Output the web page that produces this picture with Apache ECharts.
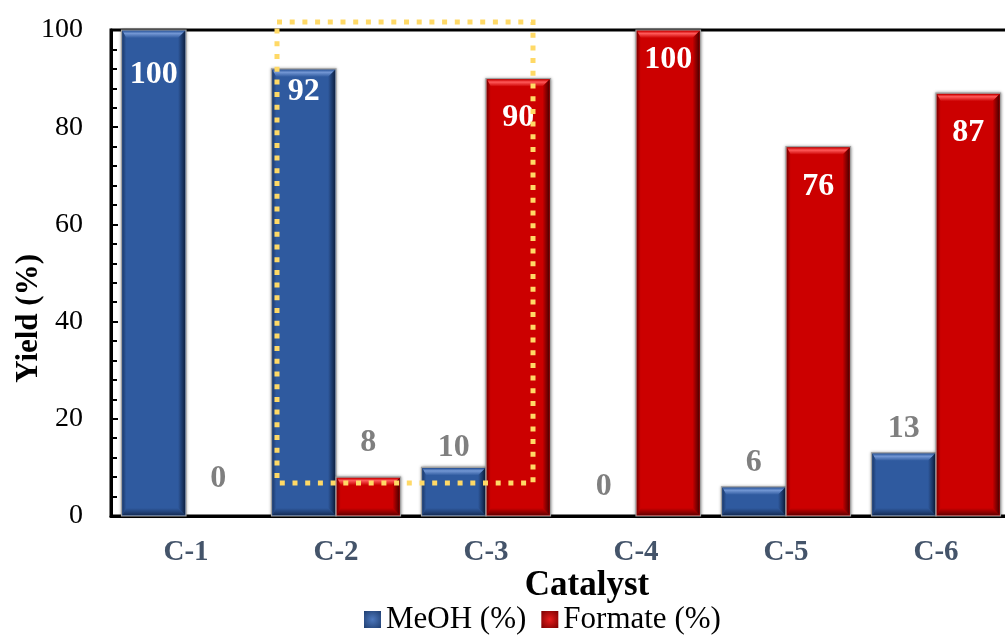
<!DOCTYPE html>
<html>
<head>
<meta charset="utf-8">
<script src="https://cdn.jsdelivr.net/npm/echarts@6/dist/echarts.min.js"></script>
<style>
  html, body { margin: 0; padding: 0; background: #fff; }
  #chart { width: 1005px; height: 636px; }
</style>
</head>
<body>
<div id="chart"></div>
<script>
// Catalyst screening: methanol vs formate yield
const categories = ['C-1', 'C-2', 'C-3', 'C-4', 'C-5', 'C-6'];
const meohYield = [100, 92, 10, 0, 6, 13];
const formateYield = [0, 8, 90, 100, 76, 87];
const yTicks = [0, 20, 40, 60, 80, 100];

// label placement (pixels below bar top for inside labels, above for outside ones)
const insideShift = [[45, 23, 39, 30, 40, 40], [45, 23, 39, 30, 40, 40]];
const outsideShift = [[37, 34, 20, 29, 24, 24], [37, 34, 20, 29, 24, 24]];

const SERIF = '"Liberation Serif", "Times New Roman", serif';
const palette = [
  { base: '#2F5A9F', light: '#7397D4', dark: '#0F2244' },
  { base: '#CC0000', light: '#FF5A5A', dark: '#4A0000' }
];
const BAR_RATIO = 0.43;

function makeRender(si) {
  return function (params, api) {
    const idx = api.value(0);
    const val = api.value(1);
    const base = api.coord([idx, 0]);
    const top = api.coord([idx, val]);
    const band = api.size([1, 0])[0];
    const w = band * BAR_RATIO;
    const x = si === 0 ? base[0] - w : base[0];
    const h = base[1] - top[1];
    const c = palette[si];
    const children = [];
    if (h > 0) {
      const b = Math.min(8, h / 3);
      children.push({
        type: 'rect',
        shape: { x: x, y: top[1], width: w, height: h },
        style: { fill: c.base, stroke: '#a0a0a0', lineWidth: 1.2,
                 shadowBlur: 3, shadowColor: 'rgba(0,0,0,0.35)' }
      });
      // top highlight
      children.push({
        type: 'polygon',
        shape: { points: [[x + 1, top[1] + 1], [x + w - 1, top[1] + 1], [x + w - b, top[1] + b], [x + b * 0.6, top[1] + b]] },
        style: { fill: new echarts.graphic.LinearGradient(0, 0, 0, 1, [
          { offset: 0, color: c.base }, { offset: 0.35, color: c.light }, { offset: 1, color: c.base }]) }
      });
      // right dark edge
      children.push({
        type: 'polygon',
        shape: { points: [[x + w - 1, top[1] + 1], [x + w - 1, base[1] - 1], [x + w - b, base[1] - b], [x + w - b, top[1] + b]] },
        style: { fill: new echarts.graphic.LinearGradient(0, 0, 1, 0, [
          { offset: 0, color: c.base }, { offset: 1, color: c.dark }]) }
      });
      // bottom dark edge
      children.push({
        type: 'polygon',
        shape: { points: [[x + 1, base[1] - 1], [x + w - 1, base[1] - 1], [x + w - b, base[1] - b], [x + b * 0.6, base[1] - b]] },
        style: { fill: new echarts.graphic.LinearGradient(0, 0, 0, 1, [
          { offset: 0, color: c.base }, { offset: 1, color: c.dark }]), opacity: 0.75 }
      });
      // left soft edge
      children.push({
        type: 'polygon',
        shape: { points: [[x + 1, top[1] + 1], [x + b * 0.6, top[1] + b], [x + b * 0.6, base[1] - b], [x + 1, base[1] - 1]] },
        style: { fill: new echarts.graphic.LinearGradient(0, 0, 1, 0, [
          { offset: 0, color: c.dark }, { offset: 1, color: c.base }]), opacity: 0.5 }
      });
    }
    const inside = val >= 50;
    children.push({
      type: 'text',
      style: {
        text: String(val),
        x: x + w / 2,
        y: inside ? top[1] + insideShift[si][idx] : top[1] - outsideShift[si][idx],
        fill: inside ? '#ffffff' : '#7f7f7f',
        font: 'bold 32px ' + SERIF,
        align: 'center',
        verticalAlign: 'middle'
      },
      z2: 10
    });
    return { type: 'group', children: children };
  };
}

const chart = echarts.init(document.getElementById('chart'), null, { renderer: 'canvas' });

chart.setOption({
  backgroundColor: '#ffffff',
  animation: false,
  grid: {
    left: 111, top: 30, width: 900, bottom: 120,
    outerBoundsMode: 'none', containLabel: false,
    show: true, borderColor: '#000', borderWidth: 3, backgroundColor: 'transparent'
  },
  legend: {
    left: 359, top: 599,
    itemWidth: 17, itemHeight: 17, itemGap: 15,
    icon: 'rect',
    textStyle: { fontFamily: SERIF, fontSize: 31, color: '#000' },
    data: [
      { name: 'MeOH (%)', itemStyle: { color: new echarts.graphic.RadialGradient(0.5, 0.5, 0.7, [
        { offset: 0, color: '#4d78bd' }, { offset: 1, color: '#1f3e70' }]) } },
      { name: 'Formate (%)', itemStyle: { color: new echarts.graphic.RadialGradient(0.5, 0.5, 0.7, [
        { offset: 0, color: '#e81e1e' }, { offset: 1, color: '#7a0000' }]) } }
    ]
  },
  xAxis: {
    type: 'category',
    data: categories,
    axisLine: { lineStyle: { color: '#000', width: 3 } },
    axisTick: { show: false },
    axisLabel: { fontFamily: SERIF, fontWeight: 'bold', fontSize: 29, color: '#44546A', margin: 22 }
  },
  yAxis: {
    type: 'value',
    min: yTicks[0], max: yTicks[yTicks.length - 1], interval: yTicks[1] - yTicks[0],
    axisLine: { show: true, lineStyle: { color: '#000', width: 3 } },
    axisTick: { show: true, inside: true, length: 7, lineStyle: { color: '#000', width: 2 } },
    minorTick: { show: true, splitNumber: 5, length: 6, lineStyle: { color: '#000', width: 2 } },
    splitLine: { show: false },
    axisLabel: { fontFamily: SERIF, fontSize: 28, color: '#000', margin: 28 }
  },
  series: [
    {
      name: 'MeOH (%)', type: 'custom', renderItem: makeRender(0),
      itemStyle: { color: palette[0].base },
      encode: { x: 0, y: 1 },
      data: meohYield.map((v, i) => [i, v])
    },
    {
      name: 'Formate (%)', type: 'custom', renderItem: makeRender(1),
      itemStyle: { color: palette[1].base },
      encode: { x: 0, y: 1 },
      data: formateYield.map((v, i) => [i, v])
    }
  ],
  graphic: [
    {
      type: 'text', left: 13, top: 254, rotation: Math.PI / 2,
      style: { text: 'Yield (%)', font: 'bold 31px ' + SERIF, fill: '#000' }
    },
    {
      type: 'text', x: 587, y: 586,
      style: { text: 'Catalyst', font: 'bold 35px ' + SERIF, fill: '#000', align: 'center', verticalAlign: 'middle' }
    },
    {
      type: 'rect', z: 100,
      shape: { x: 277, y: 22, width: 256, height: 461 },
      style: { fill: 'none', stroke: '#FFD966', lineWidth: 5, lineDash: [5, 7.7] }
    }
  ]
});
</script>
</body>
</html>
